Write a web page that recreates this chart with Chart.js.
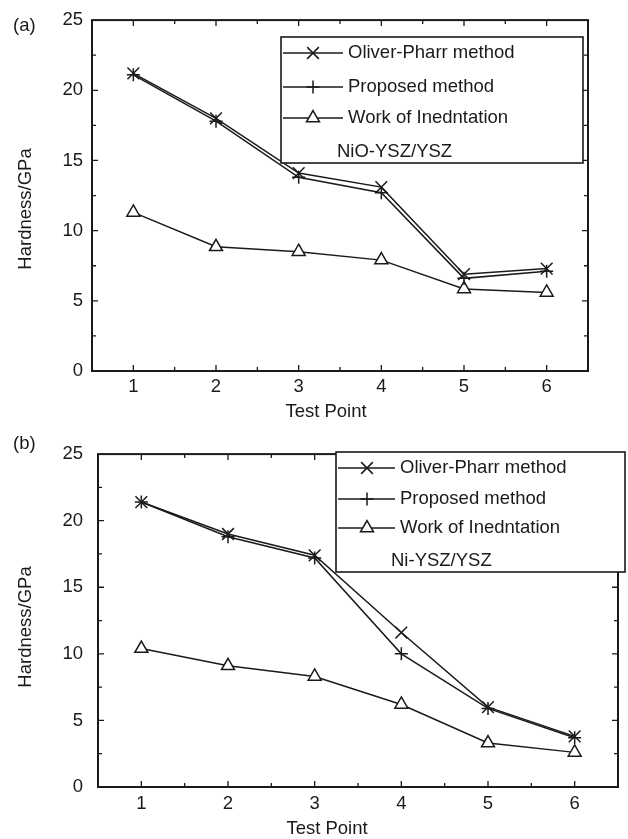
<!DOCTYPE html>
<html>
<head>
<meta charset="utf-8">
<script src="https://cdn.jsdelivr.net/npm/chart.js@4.4.1/dist/chart.umd.min.js"></script>
<style>
  html, body { margin: 0; padding: 0; background: #fff; }
  .panel { position: absolute; left: 0; width: 628px; }
  #pa { top: 0; height: 428px; }
  #pb { top: 428px; height: 411px; }
</style>
</head>
<body>
<div class="panel" id="pa"><canvas id="chartA" width="628" height="428"></canvas></div>
<div class="panel" id="pb"><canvas id="chartB" width="628" height="411"></canvas></div>
<script>
const testPoints = [1, 2, 3, 4, 5, 6];
const seriesLabels = ['Oliver-Pharr method', 'Proposed method', 'Work of Inedntation'];

// (a) NiO-YSZ/YSZ
const oliverA = [21.2, 18.0, 14.1, 13.1, 6.9, 7.3];
const proposedA = [21.1, 17.8, 13.8, 12.7, 6.6, 7.1];
const workA = [11.3, 8.85, 8.5, 7.9, 5.85, 5.6];

// (b) Ni-YSZ/YSZ
const oliverB = [21.4, 19.0, 17.4, 11.6, 6.0, 3.8];
const proposedB = [21.4, 18.8, 17.2, 10.0, 5.9, 3.7];
const workB = [10.4, 9.1, 8.3, 6.2, 3.3, 2.6];

const INK = '#1a1a1a';
const FONT = '"Liberation Sans", Arial, sans-serif';
const FSIZE = 18.5;

// frame, inward ticks, boxed legend and axis titles
const framePlugin = {
  id: 'frame',
  afterDraw(chart, args, opts) {
    const ctx = chart.ctx;
    const a = chart.chartArea;
    const xs = chart.scales.x, ys = chart.scales.y;
    ctx.save();
    ctx.strokeStyle = INK;
    ctx.lineWidth = 1.3;
    ctx.beginPath();
    xs.ticks.forEach(t => {
      const px = xs.getPixelForValue(t.value);
      if (px <= a.left + 1 || px >= a.right - 1) return;
      const len = Number.isInteger(t.value) ? 6 : 4;
      ctx.moveTo(px, a.bottom); ctx.lineTo(px, a.bottom - len);
      ctx.moveTo(px, a.top); ctx.lineTo(px, a.top + len);
    });
    ys.ticks.forEach(t => {
      const py = ys.getPixelForValue(t.value);
      if (py <= a.top + 1 || py >= a.bottom - 1) return;
      const len = t.value % 5 === 0 ? 6 : 4;
      ctx.moveTo(a.left, py); ctx.lineTo(a.left + len, py);
      ctx.moveTo(a.right, py); ctx.lineTo(a.right - len, py);
    });
    ctx.stroke();
    ctx.lineWidth = 2;
    ctx.strokeRect(a.left, a.top, a.right - a.left, a.bottom - a.top);

    // legend
    const lg = opts.legend;
    ctx.fillStyle = '#fff';
    ctx.fillRect(lg.box.x, lg.box.y, lg.box.w, lg.box.h);
    ctx.lineWidth = 1.6;
    ctx.strokeRect(lg.box.x, lg.box.y, lg.box.w, lg.box.h);
    ctx.font = FSIZE + 'px ' + FONT;
    ctx.textBaseline = 'middle';
    ctx.textAlign = 'left';
    chart.data.datasets.forEach((ds, i) => {
      const y = lg.rows[i];
      ctx.strokeStyle = INK;
      ctx.lineWidth = ds.borderWidth;
      ctx.beginPath();
      ctx.moveTo(lg.lineX[0], y); ctx.lineTo(lg.lineX[1], y);
      ctx.stroke();
      ctx.fillStyle = ds.pointBackgroundColor;
      Chart.helpers.drawPoint(ctx, {
        pointStyle: ds.pointStyle, radius: ds.pointRadius, rotation: 0, borderWidth: ds.pointBorderWidth
      }, lg.markerX, y);
      ctx.fillStyle = INK;
      ctx.fillText(ds.label, lg.textX, y);
    });
    ctx.fillText(lg.note, lg.noteX, lg.noteY);

    // axis titles and panel tag
    ctx.textAlign = 'center';
    ctx.fillText('Test Point', opts.xTitle[0], opts.xTitle[1]);
    ctx.save();
    ctx.translate(opts.yTitle[0], opts.yTitle[1]);
    ctx.rotate(-Math.PI / 2);
    ctx.fillText('Hardness/GPa', 0, 0);
    ctx.restore();
    ctx.textAlign = 'left';
    ctx.fillText(opts.tag[0], opts.tag[1], opts.tag[2]);
    ctx.restore();
  }
};

function makeDatasets(oliver, proposed, work) {
  const toXY = arr => arr.map((v, i) => ({ x: testPoints[i], y: v }));
  const base = {
    borderColor: INK, borderWidth: 1.5, pointBorderColor: INK,
    pointBorderWidth: 1.5, pointHoverRadius: 0, tension: 0
  };
  return [
    { ...base, label: seriesLabels[0], data: toXY(oliver), pointStyle: 'crossRot', pointRadius: 8.3, pointBackgroundColor: INK },
    { ...base, label: seriesLabels[1], data: toXY(proposed), pointStyle: 'cross', pointRadius: 6.5, pointBackgroundColor: INK },
    { ...base, label: seriesLabels[2], data: toXY(work), pointStyle: 'triangle', pointRadius: 7.5, pointBackgroundColor: '#fff' }
  ];
}

function makeChart(id, datasets, geo, frameOpts) {
  return new Chart(document.getElementById(id), {
    type: 'line',
    data: { datasets },
    options: {
      responsive: false,
      animation: false,
      events: [],
      layout: { padding: { left: 0, top: geo.top, right: geo.right, bottom: 0 } },
      plugins: { legend: { display: false }, tooltip: { enabled: false }, frame: frameOpts },
      scales: {
        x: {
          type: 'linear', min: 0.5, max: 6.5,
          grid: { display: false, drawTicks: false }, border: { display: false },
          ticks: {
            stepSize: 0.5, autoSkip: false, maxRotation: 0, padding: geo.xPad,
            color: INK, font: { family: FONT, size: FSIZE },
            callback: v => Number.isInteger(v) ? v : ''
          },
          afterFit: s => { s.height = geo.xHeight; }
        },
        y: {
          min: 0, max: 25,
          grid: { display: false, drawTicks: false }, border: { display: false },
          ticks: {
            stepSize: 2.5, autoSkip: false, padding: geo.yPad,
            color: INK, font: { family: FONT, size: FSIZE },
            callback: v => v % 5 === 0 ? v : ''
          },
          afterFit: s => { s.width = geo.yWidth; }
        }
      }
    },
    plugins: [framePlugin]
  });
}

makeChart('chartA', makeDatasets(oliverA, proposedA, workA),
  { top: 16, right: 40, xHeight: 57, yWidth: 92, xPad: 5, yPad: 9 },
  {
    legend: { box: { x: 281, y: 37, w: 302, h: 126 }, rows: [53, 87, 118], lineX: [283, 343], markerX: 313, textX: 348,
              note: 'NiO-YSZ/YSZ', noteX: 337, noteY: 152 },
    xTitle: [326, 412], yTitle: [26, 209], tag: ['(a)', 13, 26]
  });

makeChart('chartB', makeDatasets(oliverB, proposedB, workB),
  { top: 10, right: 10, xHeight: 52, yWidth: 98, xPad: 6, yPad: 15 },
  {
    legend: { box: { x: 336, y: 24, w: 289, h: 120 }, rows: [40, 71, 100], lineX: [338, 395], markerX: 367, textX: 400,
              note: 'Ni-YSZ/YSZ', noteX: 391, noteY: 133 },
    xTitle: [327, 401], yTitle: [26, 199], tag: ['(b)', 13, 16]
  });
</script>
</body>
</html>
